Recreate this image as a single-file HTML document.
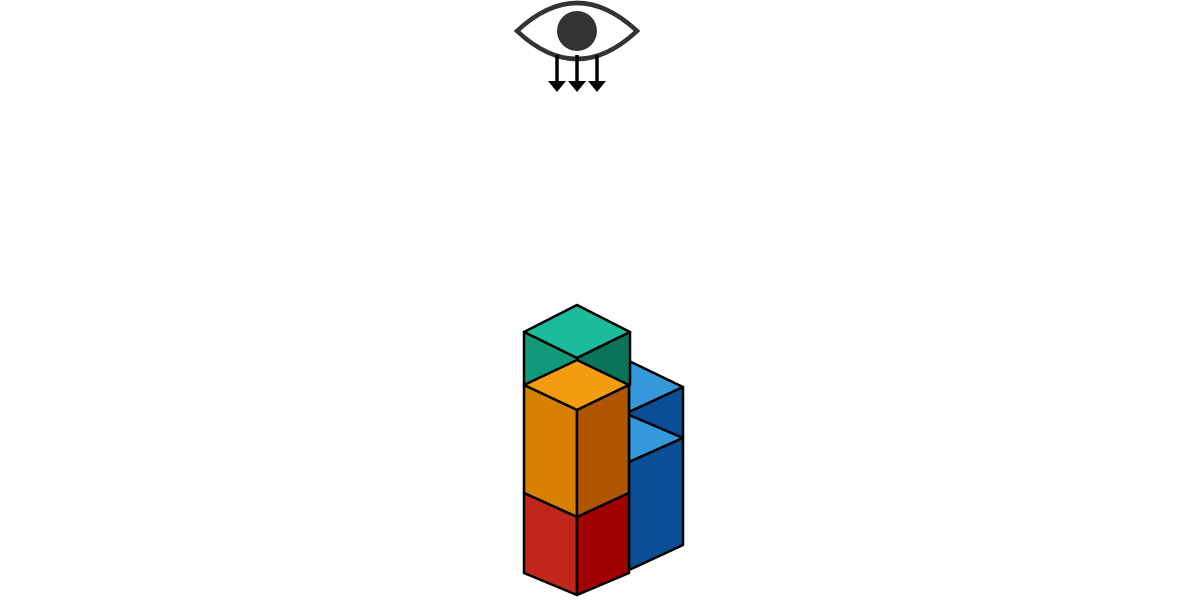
<!DOCTYPE html>
<html><head><meta charset="utf-8"><style>html,body{margin:0;padding:0;background:#fff;width:1200px;height:600px;overflow:hidden}</style></head>
<body>
<svg width="1200" height="600" viewBox="0 0 1200 600">
<g stroke="#333" fill="none">
<path d="M517,31 Q577,-25 637,31 Q577,87 517,31 Z" stroke-width="4.5"/>
<circle cx="577" cy="31" r="20" fill="#333" stroke="none"/>
<g stroke="#000" stroke-width="3.5">
<line x1="557" y1="55" x2="557" y2="86"/><line x1="577" y1="55" x2="577" y2="86"/><line x1="597" y1="55" x2="597" y2="86"/>
</g>
<g fill="#000" stroke="none">
<polygon points="548,81 566,81 557,92"/><polygon points="568,81 586,81 577,92"/><polygon points="588,81 606,81 597,92"/>
</g>
</g>
<g stroke="#000" stroke-width="2.5" stroke-linejoin="round">
<g>
<polygon points="629,361 683,387 629,412" fill="#3498db"/>
<polygon points="629,412 683,387 683,438 629,415" fill="#0a4f96"/>
<polygon points="629,415 683,438 629,462" fill="#3498db"/>
<polygon points="629,462 683,438 683,545 629,570" fill="#0a4f96"/>
</g>
<g>
<polygon points="577,305 630,332 577,358 524,332" fill="#1abc9c"/>
<polygon points="524,332 577,358 577,412 524,385" fill="#12997a"/>
<polygon points="577,358 630,332 630,385 577,412" fill="#0b7458"/>
</g>
<g>
<polygon points="577,360 629,385 577,410 524,385" fill="#f39c12"/>
<polygon points="524,385 577,410 577,517 524,493" fill="#d67f00"/>
<polygon points="577,410 629,385 629,493 577,517" fill="#b05500"/>
</g>
<g>
<polygon points="524,493 577,517 577,595 524,573" fill="#c0271a"/>
<polygon points="577,517 629,493 629,573 577,595" fill="#a00000"/>
</g>
</g>
</svg>
</body></html>
